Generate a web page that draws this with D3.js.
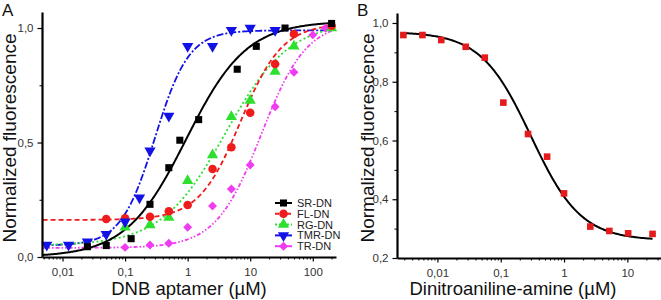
<!DOCTYPE html>
<html><head><meta charset="utf-8">
<script src="https://cdn.jsdelivr.net/npm/d3@7"></script>
<style>body{margin:0;background:#fff} svg{display:block;font-family:"Liberation Sans",Arial,sans-serif}</style>
</head><body><svg id="c" width="661" height="300"></svg>
<script>
// ---------- Panel A data ----------
const seriesNames = ["SR-DN","FL-DN","RG-DN","TMR-DN","TR-DN"];
const srX = [0.025,0.05,0.125,0.25,0.5,0.75,1.5,6.2,12.5,36,200];
const srY = [0.045,0.05,0.08,0.23,0.39,0.51,0.60,0.82,0.92,1.0,1.02];
const flX = [0.05,0.1,0.25,0.5,1,2.5,5,10,25,50,200];
const flY = [0.166,0.169,0.176,0.2,0.227,0.384,0.479,0.63,0.843,0.974,1.01];
const rgX = [0.1,0.25,0.5,1,2.5,5,10,25,50,200];
const rgY = [0.13,0.14,0.172,0.333,0.445,0.613,0.683,0.81,0.92,1.0];
const tmrX = [0.0056,0.0125,0.025,0.05,0.1,0.17,0.25,0.5,1,2.5,5,10,25];
const tmrY = [0.052,0.052,0.067,0.099,0.154,0.259,0.464,0.616,0.92,0.92,0.99,1.0,0.99];
const trX = [0.1,0.25,0.5,1,2.5,5,10,25,50,100,160];
const trY = [0.042,0.052,0.06,0.13,0.223,0.297,0.402,0.656,0.807,0.97,1.0];
// Hill fit parameters (bottom, top, EC50, slope)
const fitBottom = [0,0.162,0.05,0.05,0.04];
const fitTop = [1.03,1.02,1.03,0.99,1.03];
const fitEC50 = [0.95,7,4,0.3,15];
const fitHill = [0.9,1.3,0.85,1.6,1.2];
const xTicksA = [0.01,0.1,1,10,100];
const xTickLabelsA = ["0,01","0,1","1","10","100"];
const yTicksA = [0,0.5,1];
const yTickLabelsA = ["0,0","0,5","1,0"];

// ---------- Panel B data ----------
const bX = [0.0029,0.0058,0.0115,0.028,0.056,0.11,0.27,0.54,1.0,2.6,5.2,10.3,25];
const bY = [0.959,0.959,0.942,0.919,0.882,0.729,0.622,0.545,0.42,0.307,0.292,0.284,0.282];
const fitB = {bottom:0.26, top:0.97, ic50:0.3, hill:1.1};
const xTicksB = [0.01,0.1,1,10];
const xTickLabelsB = ["0,01","0,1","1","10"];
const yTicksB = [0.2,0.4,0.6,0.8,1.0];
const yTickLabelsB = ["0,2","0,4","0,6","0,8","1,0"];

const colors = ["#000000","#ee1c1c","#2ee02e","#1212e6","#f03cf0"];
const dashes = [null,"5,3","2,2.5","7,2,2,2","4,2,1.5,2,1.5,2"];
const symbols = ["square","circle","triUp","triDown","diamond"];

const svg = d3.select("#c");

function symPath(kind){
  if(kind==="square") return d3.symbol(d3.symbolSquare,50)();
  if(kind==="circle") return d3.symbol(d3.symbolCircle,58)();
  if(kind==="triUp") return d3.symbol(d3.symbolTriangle,55)();
  if(kind==="triDown") return d3.symbol(d3.symbolTriangle,55)();
  if(kind==="diamond") return d3.symbol(d3.symbolSquare,40)();
}
function symRot(kind){ return kind==="triDown"?180:(kind==="diamond"?45:0); }

function drawAxes(g, x, y, xt, xl, yt, yl, yMinor, xMin, xMax){
  const minor=[];
  for(let e=-4;e<=3;e++) for(let m=2;m<=9;m++){const v=m*Math.pow(10,e); if(v>=xMin&&v<=xMax) minor.push(v);}
  const ax = g.append("g").attr("transform",`translate(0,${y.range()[0]})`);
  ax.call(d3.axisBottom(x).tickValues(minor).tickSize(2.5).tickSizeOuter(0).tickFormat(""));
  ax.call(g2=>g2.selectAll(".tick line").attr("stroke","#000").attr("stroke-width",1));
  const ax2 = g.append("g").attr("transform",`translate(0,${y.range()[0]})`);
  ax2.call(d3.axisBottom(x).tickValues(xt).tickSize(4.5).tickSizeOuter(0).tickPadding(6).tickFormat((d,i)=>xl[i]));
  ax2.select(".domain").attr("stroke","#000").attr("stroke-width",2.2);
  ax2.selectAll(".tick line").attr("stroke-width",1.2);
  ax2.selectAll("text").attr("font-size",11.5).attr("fill","#333").attr("font-family","Liberation Sans, Arial, sans-serif");
  ax.select(".domain").remove();

  const ay = g.append("g").attr("transform",`translate(${x.range()[0]},0)`);
  ay.call(d3.axisLeft(y).tickValues(yMinor).tickSize(2.5).tickSizeOuter(0).tickFormat(""));
  ay.select(".domain").remove();
  const ay2 = g.append("g").attr("transform",`translate(${x.range()[0]},0)`);
  ay2.call(d3.axisLeft(y).tickValues(yt).tickSize(4.5).tickSizeOuter(0).tickPadding(4).tickFormat((d,i)=>yl[i]));
  ay2.select(".domain").attr("stroke","#000").attr("stroke-width",2.2);
  ay2.selectAll(".tick line").attr("stroke-width",1.2);
  ay2.selectAll("text").attr("font-size",11.5).attr("fill","#333").attr("font-family","Liberation Sans, Arial, sans-serif");
}

// ---------- Panel A ----------
const xA = d3.scaleLog().domain([0.0047,235]).range([42,336]);
const yA = d3.scaleLinear().domain([0,1.07]).range([257,12]);
const gA = svg.append("g");
svg.append("defs").append("clipPath").attr("id","clipA").append("rect")
  .attr("x",42).attr("y",8).attr("width",300).attr("height",249);

const allX = [srX,flX,rgX,tmrX,trX], allY=[srY,flY,rgY,tmrY,trY];
const grid = d3.range(0,301).map(i=>Math.pow(10, Math.log10(0.0048)+(Math.log10(200)-Math.log10(0.0048))*i/300));
const line = d3.line().x(d=>xA(d[0])).y(d=>yA(d[1]));
const curves = gA.append("g").attr("clip-path","url(#clipA)");
[3,4,2,1,0].forEach(k=>{
  const pts = grid.map(v=>[v, fitBottom[k]+(fitTop[k]-fitBottom[k])/(1+Math.pow(fitEC50[k]/v,fitHill[k]))]);
  curves.append("path").attr("d",line(pts)).attr("fill","none").attr("stroke",colors[k])
    .attr("stroke-width",k===0?2:1.8).attr("stroke-dasharray",dashes[k]);
});
[4,2,1,3,0].forEach(k=>{
  gA.append("g").selectAll("path").data(allX[k].map((v,i)=>[v,allY[k][i]])).join("path")
    .attr("d",symPath(symbols[k]))
    .attr("transform",d=>`translate(${xA(d[0])},${yA(d[1])}) rotate(${symRot(symbols[k])})`)
    .attr("fill",colors[k]);
});
drawAxes(gA,xA,yA,xTicksA,xTickLabelsA,yTicksA,yTickLabelsA,[0.25,0.75],0.0047,235);

// legend
const leg = gA.append("g");
seriesNames.forEach((n,k)=>{
  const yy = 203 + k*10.8;
  leg.append("line").attr("x1",275).attr("x2",292).attr("y1",yy).attr("y2",yy)
    .attr("stroke",colors[k]).attr("stroke-width",2).attr("stroke-dasharray",k===0?null:(k===1?"4,2":(k===2?"2,2":null)));
  leg.append("path").attr("d",symPath(symbols[k])).attr("transform",`translate(283.5,${yy}) rotate(${symRot(symbols[k])})`).attr("fill",colors[k]);
  leg.append("text").attr("x",297).attr("y",yy+4).attr("font-size",11).attr("fill","#222").text(n);
});

// titles
svg.append("text").attr("x",189).attr("y",295).attr("text-anchor","middle").attr("font-size",18.5).attr("fill","#111").text("DNB aptamer (µM)");
svg.append("text").attr("transform","translate(16,138) rotate(-90)").attr("text-anchor","middle").attr("font-size",19).attr("fill","#111").text("Normalized fluorescence");
svg.append("text").attr("x",2).attr("y",16).attr("font-size",17).attr("fill","#111").text("A");

// ---------- Panel B ----------
const xB = d3.scaleLog().domain([0.0023,34]).range([397,661]);
const yB = d3.scaleLinear().domain([0.2,1.034]).range([258,13]);
const gB = svg.append("g");
const gridB = d3.range(0,201).map(i=>Math.pow(10, Math.log10(0.0029)+(Math.log10(25)-Math.log10(0.0029))*i/200));
const lineB = d3.line().x(d=>xB(d[0])).y(d=>yB(d[1]));
gB.append("path").attr("d",lineB(gridB.map(v=>[v, fitB.bottom+(fitB.top-fitB.bottom)/(1+Math.pow(v/fitB.ic50,fitB.hill))])))
  .attr("fill","none").attr("stroke","#000").attr("stroke-width",2);
gB.append("g").selectAll("rect").data(bX.map((v,i)=>[v,bY[i]])).join("rect")
  .attr("x",d=>xB(d[0])-3.3).attr("y",d=>yB(d[1])-3.3).attr("width",6.6).attr("height",6.6).attr("fill","#e41a1c");
drawAxes(gB,xB,yB,xTicksB,xTickLabelsB,yTicksB,yTickLabelsB,[0.3,0.5,0.7,0.9],0.0023,34);
svg.append("text").attr("x",513).attr("y",295).attr("text-anchor","middle").attr("font-size",18.5).attr("fill","#111").text("Dinitroaniline-amine (µM)");
svg.append("text").attr("transform","translate(374,138) rotate(-90)").attr("text-anchor","middle").attr("font-size",19).attr("fill","#111").text("Normalized fluorescence");
svg.append("text").attr("x",357).attr("y",16).attr("font-size",17).attr("fill","#111").text("B");
</script></body></html>
